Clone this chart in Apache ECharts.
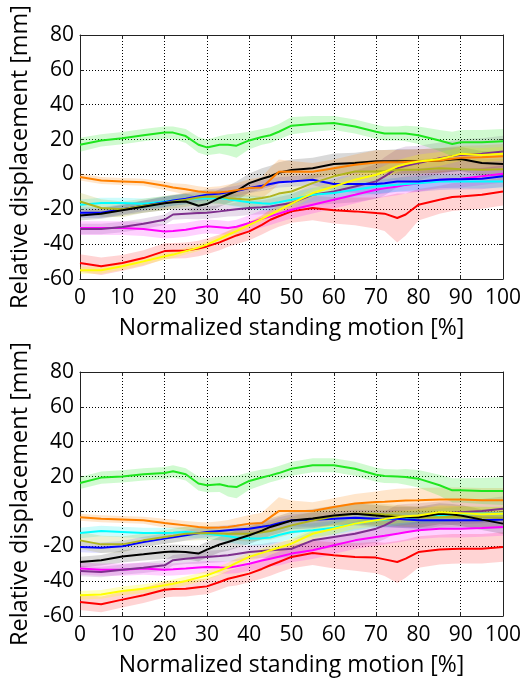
<!DOCTYPE html>
<html>
<head>
<meta charset="utf-8">
<script src="https://cdn.jsdelivr.net/npm/echarts@6/dist/echarts.min.js"></script>
<style>
  html, body { margin: 0; padding: 0; background: #fff; }
  #chart { width: 526px; height: 683px; }
</style>
</head>
<body>
<div id="chart"></div>
<script>
// Sample positions along the normalized standing motion [%]
const xs = [0,5,10,15,20, 22,25,28,30, 33,35,37,40, 43,45,47,50, 55,60,65,70, 72,75,77,80, 85,88,90,95,100];

// ---- Upper panel: mean relative displacement [mm] and spread ----
const top_green = [17,19.5,20.8,22.5,24, 24,22,17,15.5, 17,17,16.5,19.5, 21.5,22.5,24.5,28, 29,29.5,27.5,24.5, 23.5,23.5,23.5,22.5, 19.5,17.5,18.5,18.5,19];
const top_green_sd = [4,3.5,3.5,3.5,3.5, 3.5,4,4.5,4.5, 5,6,7,5, 4.5,4.5,4.5,5, 4.5,4,4,4, 4,4,4.5,5, 6,7,7,7,7];
const top_orange = [-1.5,-3.5,-4,-4.5,-6.5, -7.5,-8.5,-9.8,-10.3, -10.3,-9.8,-9,-7.8, -7.5,-3,1.5,1.7, 1.5,3.6,5.5,6.9, 7,7,7.2,7.5, 8,9,9.5,9.8,10.5];
const top_orange_sd = [2,2,2,2,2.5, 2.5,3,3,3, 3.5,4,4,5, 6,7,7,6, 5,5,6,7, 7,7,7,7, 7,7,7,7,7];
const top_black = [-23.5,-22.5,-20.5,-18.5,-16.5, -16,-15.5,-18,-17, -13.5,-11.5,-9.5,-5, -2.5,-1,1,2.5, 3.6,6,6.5,7.5, 7.5,7.5,7.5,7.5, 8,8.5,8.8,6.5,6];
const top_black_sd = [3,3,3,3.5,4, 4,4.5,5,5, 5,5,5.5,5.5, 6,6,6,6, 6,6,6,6.5, 6.5,7,7,7, 7,7,7,7,7];
const top_blue = [-22,-22,-20,-18,-16, -15,-14,-12.5,-11.7, -11,-10.3,-9.5,-7.8, -6.5,-5.5,-4.5,-4, -3,-5.5,-5.5,-5.5, -5,-4,-4,-4, -3,-2.7,-2.7,-2.5,-1];
const top_blue_sd = [3,3,3,3,3, 3,3,3,3, 3,3,3,3, 3,3,3,3, 3,4,5,6, 6,6,6,6, 6,6,6,6,6];
const top_cyan = [-17.4,-16.4,-16.4,-16.8,-15.5, -15,-14.2,-13.8,-13.6, -13.6,-14.2,-15,-16, -16.5,-16.8,-16,-14.5, -11.7,-10.7,-8.8,-6.9, -6.5,-5.9,-5.5,-5, -4,-4,-4,-4,-4];
const top_cyan_sd = [3,3,3,3,3, 3,3,3,3, 3,3.5,3.5,4, 4,4,4,4, 4,4,4,4, 4,4,4,4, 4,4,4,4,4];
const top_olive = [-15.5,-19.3,-20,-18,-16.4, -15.5,-14.5,-13.2,-12.6, -13,-13.6,-14,-14.5, -13.5,-12.6,-11,-9.8, -5,-1.1,1.7,1.7, 2,2.7,2.7,2.7, 3.6,3.3,3,2.7,3];
const top_olive_sd = [5,5,4.5,4,4, 4,4,4,4, 4,4,4,4.5, 4.5,5,5,5, 5,5.5,6,6, 6,6,6,6, 6,6,6,6,6];
const top_purple = [-31.3,-31.3,-30.2,-28.3,-26, -23,-22.6,-22.2,-22, -21.2,-20.6,-20,-19.3, -18.8,-18.4,-17.5,-16.4, -11.7,-9.8,-6.9,-4, -1.1,3.6,5,6.5, 9.3,10.5,11.2,11.8,13.2];
const top_purple_sd = [3,3,3,3,3, 3,3,3.5,3.5, 3.5,3.5,4,4, 4,4.5,4.5,5, 6,7,9,10, 11,11,11,10, 9,9,9,9,9];
const top_magenta = [-30.8,-30.8,-30.8,-31.3,-32.7, -32.5,-31.7,-30.5,-29.8, -30.3,-30.8,-30,-27.9, -25.5,-24,-22.5,-20.3, -17.4,-14.5,-11.7,-8.8, -8,-6.9,-6,-5, -3,-2.7,-2.5,-1.1,0.4];
const top_magenta_sd = [4,4,4,4,4, 4,4,4,4, 4,4,4,4.5, 5,5,5,5, 5,5,5,5, 5,5,5,5, 5,5,5,5,5];
const top_red = [-50.8,-52.7,-50.8,-48,-44, -43.8,-43.6,-42.5,-41.3, -39,-37,-35,-32.7, -29,-26,-24,-21.2, -19.3,-20.6,-21.2,-22.2, -22.5,-25,-23,-17.4, -14.5,-13,-12.6,-11.7,-9.8];
const top_red_sd = [5,5,4.5,4.5,4.5, 4.5,4.5,4.5,4.5, 4.5,4.5,5,5, 5.5,6,6,6.5, 7,7.5,8,9, 10,14,12,9, 8,8,8,8,8];
const top_yellow = [-55,-55,-52.7,-49.9,-47, -46,-44,-42,-40.3, -37,-34.6,-32.5,-28.9, -25.5,-23,-20.5,-16.8, -10.7,-6.9,-3,-0.2, 1.5,4.6,6,7.4, 8.8,10.5,11.8,11.2,11.8];
const top_yellow_sd = [2,2,2,2,2, 2,2,2,2, 2,2,2,2, 2,2,2.5,2.5, 2.5,3,3,3, 3.5,3.5,3.5,4, 4,4,4,4,4];

// ---- Lower panel ----
const bot_green = [16.3,19.4,20.1,21.3,22, 23,21.3,16,15, 15.6,14.5,14,17.5, 19.5,20.7,22,24.5, 26.5,26.5,24.5,21, 20.3,20.1,19.8,18.8, 15,12.1,12.1,11.7,11.7];
const bot_green_sd = [3.5,3.5,3.5,3.5,3.5, 3.5,3.5,4,4, 4.5,6,6.5,5, 4.5,4,4,4, 4,4,4,4, 4,4,4.5,5, 6,7,7,7.5,8];
const bot_orange = [-3.3,-4.2,-4.6,-5.1,-6.7, -7.2,-8,-9,-9.3, -9.2,-8.9,-8.2,-7, -6.7,-3.3,0.2,0.2, 0.2,2.5,4.5,5.4, 5.6,6,6.2,6.4, 6.8,6.8,6.8,6.4,6.4];
const bot_orange_sd = [2,2,2,2,2.5, 2.5,2.5,3,3, 3.5,4,4.5,5, 6,7,8,6, 5,5,5.5,6, 6.5,7,7,7, 7,7,7,7,7];
const bot_black = [-29,-28,-25.8,-24.6,-23.3, -23,-23.3,-24.2,-21.9, -19,-17.5,-16,-13.7, -11,-8.9,-7.5,-5.2, -4.1,-2.3,-1.3,-2.3, -2.8,-3.3,-3.3,-3.3, -1.3,-1.8,-2.3,-4.7,-7];
const bot_black_sd = [3,3,3.5,3.5,4, 4,4,4.5,4.5, 4.5,5,5,5, 5,5,5,5, 5.5,5.5,6,6, 6,6,6,6, 6,6,6,6,6];
const bot_blue = [-20.4,-20.8,-20,-17.5,-15.6, -14.8,-13.7,-12.5,-11.8, -11.2,-10.8,-10.4,-9.9, -8.8,-8,-6.8,-5.2, -4.8,-4.2,-3.6,-4.2, -4.2,-4.2,-4.6,-5.1, -5.1,-5.1,-5.1,-5.1,-4.7];
const bot_blue_sd = [3,3,3,3,3, 3,3,3,3, 3,3,3,3, 3,3,3.5,3.5, 4,4,4.5,5, 5,5,5,5, 5,5,5,5,5];
const bot_cyan = [-12.4,-11.2,-11.8,-12.4,-12.4, -12.2,-11.8,-12.4,-12.8, -13.6,-14.3,-15,-15.6, -15.4,-15,-13.5,-11.8, -10.8,-9.3,-7,-5.1, -4.7,-4.2,-3.8,-3.3, -2.4,-1.7,-1.3,-1.3,-1.3];
const bot_cyan_sd = [3,3,3,3,3, 3,3,3,3, 3,3.5,3.5,4, 4,4,4,4, 4,4,4,4, 4,4,4,4, 4,4,4,4,4];
const bot_olive = [-16.6,-18.9,-18.9,-16.6,-14.7, -14,-12.8,-12.5,-12.4, -12.6,-12.8,-12.8,-12.8, -12,-11.2,-10,-8, -5.2,-2.9,-1.3,-1.3, -1.8,-2.3,-2.8,-3.3, -3.3,-3,-2.9,-3.3,-3.6];
const bot_olive_sd = [5,5,4.5,4,4, 4,4,4,4, 4,4,4,4.5, 4.5,5,5,5, 5,5.5,6,6, 6,6,6,6, 6,6,6,6,6];
const bot_purple = [-34.2,-34.7,-33.4,-32.3,-30.9, -28,-27.1,-26.5,-26.1, -25.6,-25.2,-24.4,-23.3, -22.7,-22.3,-22,-21.4, -16.6,-14.7,-12.8,-9.9, -8,-4.2,-3.8,-3.3, -1.3,-0.7,-0.4,0.2,1.6];
const bot_purple_sd = [3,3,3,3,3, 3,3,3.5,3.5, 3.5,3.5,4,4, 4,4.5,4.5,5, 5.5,6,7,8, 8,8,8,8, 7,7,7,7,7];
const bot_magenta = [-32.8,-33.4,-33.4,-32.8,-33.4, -33.2,-32.8,-32.2,-31.9, -32.1,-32.3,-31.5,-30, -28.2,-27.1,-26,-24.2, -22.3,-19.4,-16.6,-14.7, -14,-12.8,-12,-10.8, -9.9,-9.9,-9.9,-9.5,-8.9];
const bot_magenta_sd = [3.5,3.5,3.5,3.5,3.5, 3.5,3.5,3.5,3.5, 3.5,3.5,4,4, 4.5,4.5,5,5, 5,5,5,5, 5,5,5,5, 5,5,5,5,5];
const bot_red = [-52,-53.3,-50.6,-48.1,-44.9, -44.5,-44.3,-43.5,-43, -40.5,-38.6,-37.5,-35.7, -33,-30.9,-29,-26.1, -23.8,-25.2,-26.1,-26.5, -27.5,-29,-27.1,-23.3, -21.9,-21.5,-21.4,-21.4,-20.4];
const bot_red_sd = [4.5,4.5,4.5,4.5,4.5, 4.5,4.5,4.5,4.5, 4.5,4.5,5,5, 5.5,6,6,6.5, 7,7.5,8,9, 9.5,12,11,9, 8.5,8.5,8.5,8.5,8.5];
const bot_yellow = [-48.1,-47.6,-45.6,-44.3,-42.4, -41.5,-39.9,-38,-36.7, -34,-31.9,-29.5,-26.1, -23.8,-22.3,-20.8,-18.5, -12.8,-9.9,-7,-5.1, -4.4,-3.3,-2.8,-2.3, -0.4,-0.8,-1,-1.6,-1.3];
const bot_yellow_sd = [2.5,2.5,2.5,2.5,2.5, 2.5,2.5,2.5,2.5, 2.5,2.5,2.5,2.5, 2.5,2.5,2.5,3, 3,3,3,3.5, 3.5,3.5,3.5,3.5, 4,4,4,4,4];

// Axis ticks
const xTicks = [0,10,20,30,40,50,60,70,80,90,100];
const yTicks = [-60,-40,-20,0,20,40,60,80];

// Line colours (drawing order: first drawn is lowest)
const palette = {
  red: '#ff0000', magenta: '#ff00ff', purple: '#7e2f8e', cyan: '#00ffff',
  blue: '#0000ff', olive: '#b0b41e', black: '#000000', orange: '#ff8000',
  yellow: '#ffff00', green: '#1ee61e'
};
const bandFill = {
  red: 'rgba(255,60,60,0.22)', magenta: 'rgba(255,0,255,0.18)', purple: 'rgba(130,60,150,0.18)',
  cyan: 'rgba(0,240,240,0.2)', blue: 'rgba(40,40,255,0.16)', olive: 'rgba(170,175,30,0.2)',
  black: 'rgba(0,0,0,0.15)', orange: 'rgba(255,130,0,0.2)', yellow: 'rgba(255,255,0,0.25)',
  green: 'rgba(40,230,40,0.22)'
};

const upper = {
  red: [top_red, top_red_sd], magenta: [top_magenta, top_magenta_sd], purple: [top_purple, top_purple_sd],
  cyan: [top_cyan, top_cyan_sd], blue: [top_blue, top_blue_sd], olive: [top_olive, top_olive_sd],
  black: [top_black, top_black_sd], orange: [top_orange, top_orange_sd], yellow: [top_yellow, top_yellow_sd],
  green: [top_green, top_green_sd]
};
const lower = {
  red: [bot_red, bot_red_sd], magenta: [bot_magenta, bot_magenta_sd], purple: [bot_purple, bot_purple_sd],
  cyan: [bot_cyan, bot_cyan_sd], blue: [bot_blue, bot_blue_sd], olive: [bot_olive, bot_olive_sd],
  black: [bot_black, bot_black_sd], orange: [bot_orange, bot_orange_sd], yellow: [bot_yellow, bot_yellow_sd],
  green: [bot_green, bot_green_sd]
};

const FONT = 'Open Sans';
const gridBoxes = [
  { left: 80, top: 35, width: 423, height: 244 },
  { left: 80, top: 372, width: 423, height: 244 }
];

const xAxes = [], yAxes = [], series = [];

gridBoxes.forEach((g, gi) => {
  const common = { type: 'value', gridIndex: gi, axisLine: { show: true, onZero: false, lineStyle: { color: '#222', width: 1 } },
    axisTick: { show: true, inside: true, length: 4, lineStyle: { color: '#222' } } };
  xAxes.push(Object.assign({}, common, {
    min: 0, max: 100, interval: 10, position: 'bottom',
    axisLabel: { show: true, color: '#000', fontFamily: FONT, fontSize: 21, margin: 9,
      formatter: v => xTicks.includes(v) ? String(v) : '' },
    splitLine: { show: true, lineStyle: { color: '#000', type: [1, 2], width: 1 } },
    name: 'Normalized standing motion [%]', nameLocation: 'middle', nameGap: 38,
    nameTextStyle: { color: '#000', fontFamily: FONT, fontSize: 23 }
  }));
  xAxes.push(Object.assign({}, common, {
    min: 0, max: 100, interval: 10, position: 'top',
    axisLabel: { show: false }, splitLine: { show: false }
  }));
  yAxes.push(Object.assign({}, common, {
    min: -60, max: 80, interval: 20, position: 'left',
    axisLabel: { show: true, color: '#000', fontFamily: FONT, fontSize: 21, margin: 6,
      formatter: v => yTicks.includes(v) ? String(v) : '' },
    splitLine: { show: true, lineStyle: { color: '#000', type: [1, 2], width: 1 } },
    name: 'Relative displacement [mm]', nameLocation: 'middle', nameGap: 45,
    nameTextStyle: { color: '#000', fontFamily: FONT, fontSize: 23.5 }
  }));
  yAxes.push(Object.assign({}, common, {
    min: -60, max: 80, interval: 20, position: 'right',
    axisLabel: { show: false }, splitLine: { show: false }
  }));
});

function addPanel(panel, gi) {
  const xi = gi * 2, yi = gi * 2;
  const keys = Object.keys(panel);
  // shaded spread bands first
  keys.forEach(k => {
    const mean = panel[k][0], sd = panel[k][1];
    const lo = mean.map((v, i) => v - sd[i]);
    const hi = mean.map((v, i) => v + sd[i]);
    series.push({
      type: 'custom', xAxisIndex: xi, yAxisIndex: yi, silent: true, z: 1,
      data: xs.map((x, i) => [x, lo[i], hi[i]]),
      encode: { x: 0, y: [1, 2] },
      renderItem: (params, api) => {
        if (params.dataIndex !== 0) return null;
        const pts = [];
        for (let i = 0; i < xs.length; i++) pts.push(api.coord([xs[i], lo[i]]));
        for (let i = xs.length - 1; i >= 0; i--) pts.push(api.coord([xs[i], hi[i]]));
        return { type: 'polygon', shape: { points: pts }, style: { fill: bandFill[k] } };
      }
    });
  });
  // mean curves on top
  keys.forEach(k => {
    series.push({
      type: 'line', xAxisIndex: xi, yAxisIndex: yi, z: 5, silent: true,
      showSymbol: false, smooth: false,
      lineStyle: { color: palette[k], width: 2 },
      data: xs.map((x, i) => [x, panel[k][0][i]])
    });
  });
}
addPanel(upper, 0);
addPanel(lower, 1);

const chart = echarts.init(document.getElementById('chart'), null, { renderer: 'canvas' });
chart.setOption({
  animation: false,
  backgroundColor: '#fff',
  grid: gridBoxes.map(g => Object.assign({ containLabel: false }, g)),
  xAxis: xAxes,
  yAxis: yAxes,
  series: series
});
</script>
</body>
</html>
